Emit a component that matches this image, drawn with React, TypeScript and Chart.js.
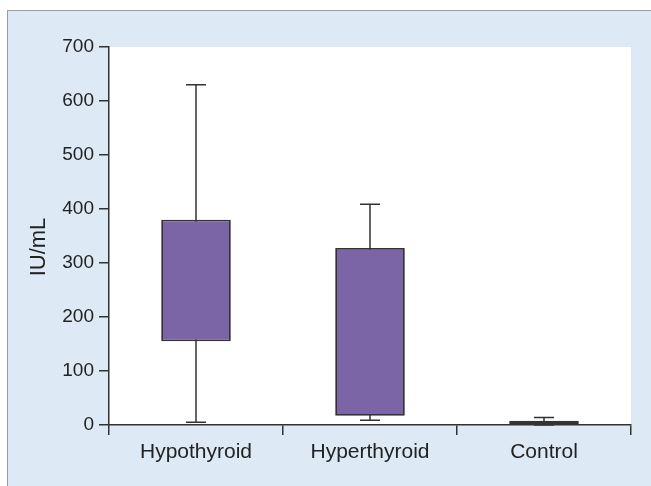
import React, { useEffect, useRef } from "react";
import { Chart, registerables } from "chart.js";

Chart.register(...registerables);

const categories = ["Hypothyroid", "Hyperthyroid", "Control"];
const minValues = [5, 9, 0];
const q1Values = [155, 17, 2];
const q3Values = [380, 328, 8];
const maxValues = [630, 409, 14];
const yTicks = [0, 100, 200, 300, 400, 500, 600, 700];
const yTitle = "IU/mL";

const FONT = "'Liberation Sans', Arial, sans-serif";

const plotBg = {
  id: "plotBg",
  beforeDraw(chart: any) {
    const { ctx, chartArea } = chart;
    ctx.save();
    ctx.fillStyle = "#ffffff";
    ctx.fillRect(chartArea.left, chartArea.top, chartArea.right - chartArea.left, chartArea.bottom - chartArea.top);
    ctx.restore();
  },
};

const yTitlePlugin = {
  id: "yTitlePlugin",
  afterDraw(chart: any) {
    const { ctx, chartArea } = chart;
    ctx.save();
    ctx.translate(39, (chartArea.top + chartArea.bottom) / 2 + 11);
    ctx.rotate(-Math.PI / 2);
    ctx.fillStyle = "#222222";
    ctx.font = `22px ${FONT}`;
    ctx.textAlign = "center";
    ctx.textBaseline = "middle";
    ctx.fillText(yTitle, 0, 0);
    ctx.restore();
  },
};

const whiskers = {
  id: "whiskers",
  beforeDatasetsDraw(chart: any) {
    const { ctx } = chart;
    const xs = chart.scales.x;
    const ys = chart.scales.y;
    ctx.save();
    ctx.strokeStyle = "#333333";
    ctx.lineWidth = 1.5;
    const cap = 10;
    categories.forEach((_c, i) => {
      const x = xs.getPixelForValue(i);
      const yMin = ys.getPixelForValue(minValues[i]);
      const yMax = ys.getPixelForValue(maxValues[i]);
      ctx.beginPath();
      ctx.moveTo(x, yMin);
      ctx.lineTo(x, yMax);
      ctx.moveTo(x - cap, yMax);
      ctx.lineTo(x + cap, yMax);
      ctx.moveTo(x - cap, yMin);
      ctx.lineTo(x + cap, yMin);
      ctx.stroke();
    });
    ctx.restore();
  },
};

export default function App() {
  const ref = useRef<HTMLCanvasElement | null>(null);
  useEffect(() => {
    if (!ref.current) return;
    const chart = new Chart(ref.current, {
      type: "bar",
      data: {
        labels: categories,
        datasets: [
          {
            data: categories.map((_c, i) => [q1Values[i], q3Values[i]]) as any,
            backgroundColor: "#7B65A7",
            borderColor: "#333333",
            borderWidth: 1.8,
            borderSkipped: false,
            barPercentage: 0.4,
            categoryPercentage: 1,
          },
        ],
      },
      options: {
        animation: false,
        responsive: false,
        maintainAspectRatio: false,
        layout: { padding: { left: 0, right: 20, top: 47, bottom: 0 } },
        plugins: { legend: { display: false }, tooltip: { enabled: false } },
        scales: {
          x: {
            type: "category",
            offset: true,
            grid: {
              offset: true,
              drawOnChartArea: false,
              drawTicks: true,
              tickLength: 10,
              color: "#333333",
              lineWidth: 1.5,
            },
            border: { display: true, color: "#333333", width: 1.5 },
            ticks: {
              color: "#222222",
              font: { family: FONT, size: 21 },
              padding: 5,
            },
            afterFit(scale: any) {
              scale.height = 61;
            },
          },
          y: {
            min: 0,
            max: 700,
            afterBuildTicks(scale: any) {
              scale.ticks = yTicks.map((v) => ({ value: v }));
            },
            grid: {
              drawOnChartArea: false,
              drawTicks: true,
              tickLength: 10,
              color: "#333333",
              lineWidth: 1.5,
            },
            border: { display: true, color: "#333333", width: 1.5 },
            ticks: {
              color: "#222222",
              font: { family: FONT, size: 19 },
              padding: 5,
            },
            afterFit(scale: any) {
              scale.width = 109;
            },
          },
        },
      },
      plugins: [plotBg, whiskers, yTitlePlugin],
    });
    return () => chart.destroy();
  }, []);

  return (
    <div style={{ position: "absolute", left: 0, top: 0, width: 651, height: 486, overflow: "hidden", background: "#ffffff" }}>
      <div
        style={{
          position: "absolute",
          left: 7,
          top: 10,
          width: 644,
          height: 476,
          background: "#DDE9F5",
          borderTop: "1.5px solid #9c9c9c",
          borderLeft: "1.5px solid #9c9c9c",
          boxSizing: "border-box",
        }}
      />
      <canvas ref={ref} width={651} height={486} style={{ position: "absolute", left: 0, top: 0, width: 651, height: 486 }} />
    </div>
  );
}
